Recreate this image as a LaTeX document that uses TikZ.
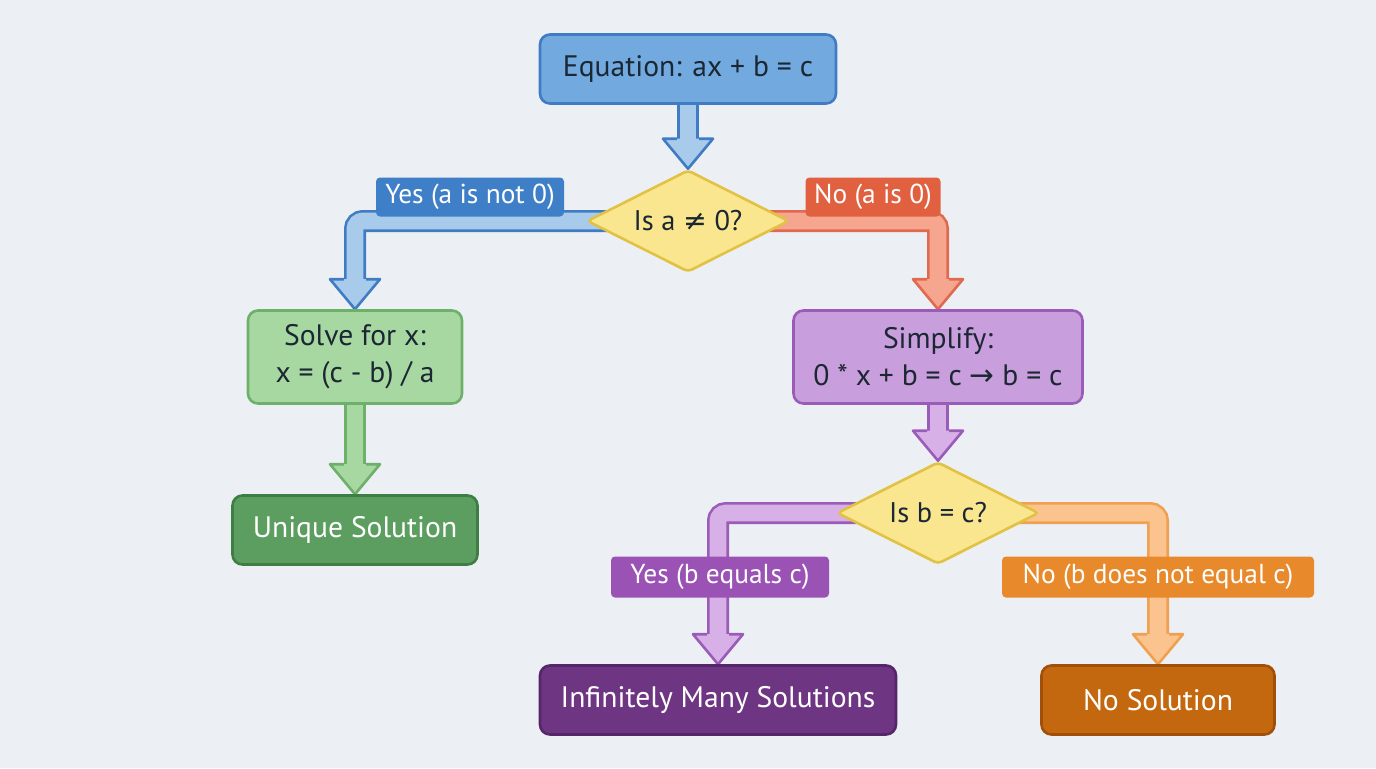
\documentclass[tikz,border=0pt]{standalone}
\usepackage{fontspec}
\setmainfont{PT Sans}
\newfontfamily\symf{DejaVu Sans}
\usetikzlibrary{shapes.geometric,calc}
\pgfdeclarelayer{bglayer}
\pgfdeclarelayer{arrowlayer}
\pgfsetlayers{bglayer,arrowlayer,main}
\definecolor{bgc}{HTML}{ECF0F4}
\definecolor{txt}{HTML}{1B2733}
\definecolor{blueF}{HTML}{72AAE0}
\definecolor{blueB}{HTML}{3F7CC4}
\definecolor{blueA}{HTML}{A9CBEB}
\definecolor{blueL}{HTML}{3F7FC8}
\definecolor{diaF}{HTML}{F9E68E}
\definecolor{diaB}{HTML}{E2C244}
\definecolor{redL}{HTML}{E0603F}
\definecolor{redA}{HTML}{F6A58E}
\definecolor{redB}{HTML}{E06A50}
\definecolor{greenF}{HTML}{A8D8A2}
\definecolor{greenB}{HTML}{6DB06A}
\definecolor{greenA}{HTML}{A8D8A2}
\definecolor{greenD}{HTML}{5C9E60}
\definecolor{greenDB}{HTML}{3E7E45}
\definecolor{purF}{HTML}{C99EDC}
\definecolor{purB}{HTML}{9A5CB8}
\definecolor{purA}{HTML}{D8B0E8}
\definecolor{purL}{HTML}{9A52B4}
\definecolor{purD}{HTML}{6E3682}
\definecolor{purDB}{HTML}{55266A}
\definecolor{orA}{HTML}{FBC48E}
\definecolor{orB}{HTML}{F0A050}
\definecolor{orL}{HTML}{E88A2C}
\definecolor{orD}{HTML}{C4680F}
\definecolor{orDB}{HTML}{A05008}
\newcommand{\blockhead}[3]{%
  \filldraw[fill=#2, draw=#3, line width=1.3pt, line join=round]
    ($(#1)+(-11,-30)$) -- ($(#1)+(-25,-30)$) -- (#1) -- ($(#1)+(25,-30)$) -- ($(#1)+(11,-30)$);}
\tikzset{
  box/.style={rectangle, rounded corners=5pt, line width=1.3pt, align=center,
    inner sep=0pt, font=\fontsize{14.8}{18.5}\selectfont, text=txt},
  lbl/.style={rectangle, rounded corners=2pt, inner sep=0pt, text=white,
    font=\fontsize{13.7}{16}\selectfont, minimum height=19.5pt},
  dec/.style={diamond, aspect=2, rounded corners=2pt, line width=1.3pt, inner sep=0pt,
    fill=diaF, draw=diaB, text=txt, minimum width=101pt, minimum height=51pt,
    font=\fontsize{14.2}{17}\selectfont},
  shaft/.style 2 args={draw=#2, double=#1, line width=1.3pt, double distance=8.4pt,
    rounded corners=4pt}
}
\begin{document}
\begin{tikzpicture}[x=0.5pt,y=-0.5pt]
\useasboundingbox (0,0) rectangle (1376,768);
\begin{pgfonlayer}{bglayer}
\fill[bgc] (0,0) rectangle (1376,768);
\end{pgfonlayer}

\node[box, fill=blueF, draw=blueB, minimum width=148pt, minimum height=34.5pt] (eq) at (688,69) {Equation: ax + b = c};
\node[dec] (dia1) at (688,221) {Is a {\symf ≠} 0?};
\node[lbl, fill=blueL, minimum width=94pt] (yes1) at (470,197) {Yes (a is not 0)};
\node[lbl, fill=redL, minimum width=67.5pt] (no1) at (873,197) {No (a is 0)};
\node[box, fill=greenF, draw=greenB, minimum width=107pt, minimum height=46.5pt] (solve) at (355,357) {Solve for x:\\x = (c - b) / a};
\node[box, fill=greenD, draw=greenDB, text=white, minimum width=122.5pt, minimum height=34.5pt] (uniq) at (355,530) {Unique Solution};
\node[box, fill=purF, draw=purB, minimum width=144.5pt, minimum height=46.5pt] (simp) at (938,357) {Simplify:\\0 * x + b = c {\symf →} b = c};
\node[dec] (dia2) at (938,513) {Is b = c?};
\node[lbl, fill=purL, minimum width=109pt, minimum height=20.5pt] (yes2) at (720,577) {Yes (b equals c)};
\node[lbl, fill=orL, minimum width=156pt, minimum height=20.5pt] (no2) at (1158,577) {No (b does not equal c)};
\node[box, fill=purD, draw=purDB, text=white, minimum width=178pt, minimum height=34.5pt] (inf) at (718,700) {Infinitely Many Solutions};
\node[box, fill=orD, draw=orDB, text=white, minimum width=116.5pt, minimum height=34.5pt] (nosol) at (1158,700) {No Solution};

\begin{pgfonlayer}{arrowlayer}
\draw[shaft={blueA}{blueB}] (eq.south) -- ($(dia1.north)+(0,-29)$);
\blockhead{dia1.north}{blueA}{blueB}
\draw[shaft={blueA}{blueB}] ($(dia1.center)+(-80,0)$) -| ($(solve.north)+(0,-29)$);
\blockhead{solve.north}{blueA}{blueB}
\draw[shaft={redA}{redB}] ($(dia1.center)+(80,0)$) -| ($(simp.north)+(0,-29)$);
\blockhead{simp.north}{redA}{redB}
\draw[shaft={greenA}{greenB}] (solve.south) -- ($(uniq.north)+(0,-29)$);
\blockhead{uniq.north}{greenA}{greenB}
\draw[shaft={purA}{purB}] (simp.south) -- ($(dia2.north)+(0,-29)$);
\blockhead{dia2.north}{purA}{purB}
\draw[shaft={purA}{purB}] ($(dia2.center)+(-80,0)$) -| ($(inf.north)+(0,-29)$);
\blockhead{inf.north}{purA}{purB}
\draw[shaft={orA}{orB}] ($(dia2.center)+(80,0)$) -| ($(nosol.north)+(0,-29)$);
\blockhead{nosol.north}{orA}{orB}
\end{pgfonlayer}
\end{tikzpicture}
\end{document}
